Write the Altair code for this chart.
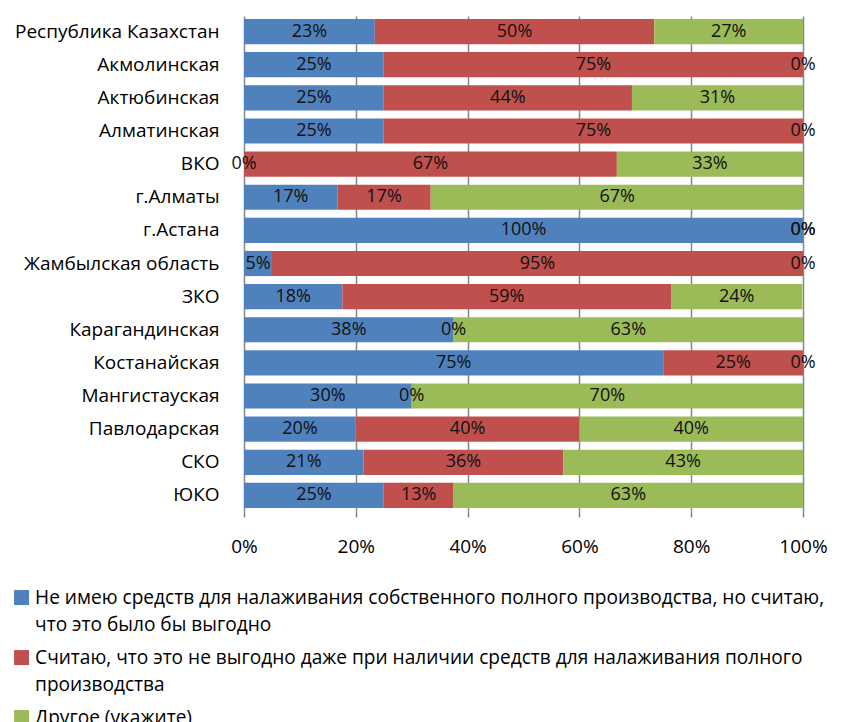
import altair as alt
import pandas as pd

regions = ["Республика Казахстан", "Акмолинская", "Актюбинская", "Алматинская", "ВКО",
           "г.Алматы", "г.Астана", "Жамбылская область", "ЗКО", "Карагандинская",
           "Костанайская", "Мангистауская", "Павлодарская", "СКО", "ЮКО"]

series = [
    "Не имею средств для налаживания  собственного полного производства, но считаю, что это было бы выгодно",
    "Считаю, что это не выгодно даже при наличии средств для налаживания  полного производства",
    "Другое (укажите)",
]
legend_lines = [
    ["Не имею средств для налаживания  собственного полного производства, но считаю,", "что это было бы выгодно"],
    ["Считаю, что это не выгодно даже при наличии средств для налаживания  полного", "производства"],
    ["Другое (укажите)"],
]
colors = ["#4F81BD", "#C0504D", "#9BBB59"]

blue = [23.4, 25, 25, 25, 0, 16.7, 100, 5, 17.6, 37.5, 75, 30, 20, 21.4, 25]
red = [50.0, 75, 44.4, 75, 66.7, 16.7, 0, 95, 58.8, 0, 25, 0, 40, 35.7, 12.5]
green = [26.6, 0, 30.6, 0, 33.3, 66.7, 0, 0, 23.5, 62.5, 0, 70, 40, 42.9, 62.5]

rows = []
for vals, s, o in zip([blue, red, green], series, range(3)):
    for r, v in zip(regions, vals):
        rows.append({"region": r, "series": s, "order": o, "v": v})
df = pd.DataFrame(rows)

FONT = "Open Sans"

label_expr = "datum.label"
for s, lines in reversed(list(zip(series, legend_lines))):
    arr = "[" + ",".join("'" + l + "'" for l in lines) + "]"
    label_expr = f"datum.label == '{s}' ? {arr} : ({label_expr})"

base = alt.Chart(df).transform_stack(
    stack="v", groupby=["region"], as_=["x0", "x1"], sort=[alt.SortField("order")]
).transform_calculate(
    mid="(datum.x0 + datum.x1) / 2",
    lab="format(datum.v, '.0f') + '%'",
)

y_enc = alt.Y("region:N", sort=regions, title=None,
              scale=alt.Scale(paddingInner=0.24, paddingOuter=0.09),
              axis=alt.Axis(labelFont=FONT, labelFontSize=19, labelColor="#000000",
                            labelPadding=25, ticks=False, domain=False, labelLimit=400))

bars = base.mark_bar().encode(
    x=alt.X("x0:Q", scale=alt.Scale(domain=[0, 100], nice=False), title=None,
            axis=alt.Axis(values=[0, 20, 40, 60, 80, 100], labelExpr="datum.value + '%'",
                          labelFont=FONT, labelFontSize=19, labelColor="#000000",
                          labelPadding=20, labelFlush=False,
                          ticks=True, tickSize=6, tickColor="#868686", tickWidth=1.5,
                          domain=False,
                          grid=True, gridColor="#868686", gridWidth=1.5)),
    x2="x1:Q",
    y=y_enc,
    color=alt.Color("series:N", sort=series,
                    scale=alt.Scale(domain=series, range=colors),
                    legend=alt.Legend(title=None, orient="none", legendX=-232, legendY=572,
                                      direction="vertical", symbolType="square",
                                      symbolSize=225, symbolStrokeWidth=0,
                                      labelFont=FONT, labelFontSize=19.1,
                                      labelColor="#000000", labelLimit=900,
                                      labelExpr=label_expr, rowPadding=13, labelOffset=4,
                                      labelBaseline="middle")),
)

texts = base.mark_text(font=FONT, fontSize=18, color="#111111").encode(
    x="mid:Q",
    y=alt.Y("region:N", sort=regions),
    text="lab:N",
)

chart = (bars + texts).properties(
    width=559, height=495,
    autosize=alt.AutoSizeParams(type="none"),
    padding={"left": 236, "top": 8, "right": 31, "bottom": 213},
).configure(
    view=alt.ViewConfig(stroke=None),
    style={"guide-label": {"lineHeight": 27}},
)

chart.save("out.html", embed_options={"renderer": "svg", "actions": False})
